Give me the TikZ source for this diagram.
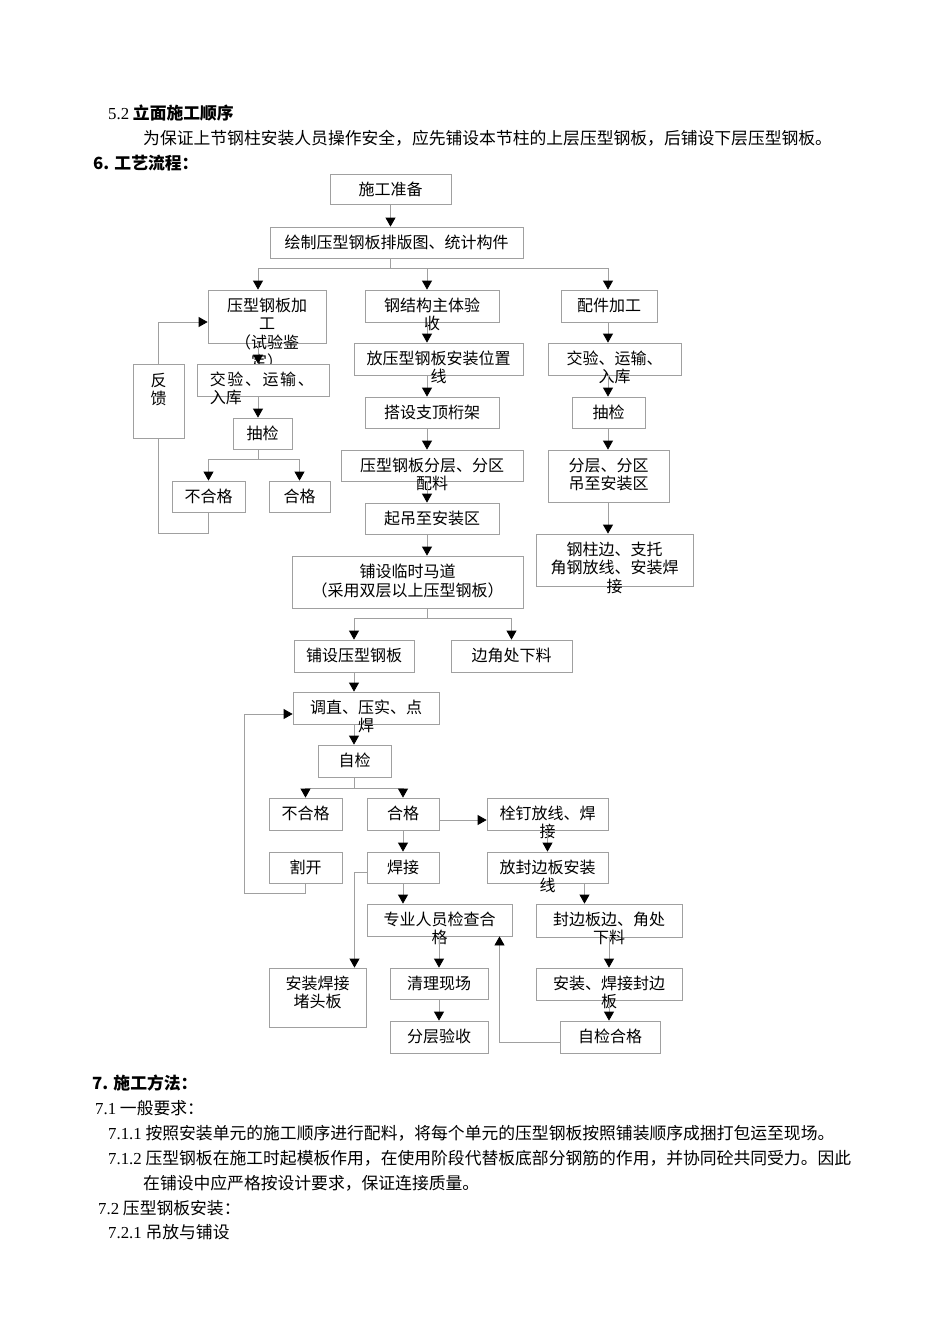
\documentclass[tikz,border=0pt]{standalone}
\usepackage{fontspec}
\setmainfont{Noto Sans CJK SC}
\newfontfamily\lat{Liberation Serif}
\usepackage{xcolor}
\usetikzlibrary{arrows.meta}

\definecolor{lgray}{HTML}{A0A0A0}
\newcommand{\boxlines}[1]{\begin{tabular}[t]{@{}c@{}}#1\end{tabular}}

\begin{document}
\begin{tikzpicture}[
  x=1pt, y=-1pt,
  font=\fontsize{16}{18}\selectfont,
  >={Triangle[width=10pt,length=9pt,color=black]},
  box/.style={draw=lgray, fill=white, line width=0.8pt, inner sep=0pt},
  txt/.style={anchor=base, inner sep=0pt},
  arr/.style={->, draw=lgray, line width=0.8pt},
  ln/.style={draw=lgray, line width=0.8pt},
  body/.style={anchor=base west, inner sep=0pt, font=\fontsize{16.8}{20}\selectfont},
]
\fill[white] (0,0) rectangle (950,1344);
\useasboundingbox (0,0) rectangle (950,1344);

% page text above the chart
\node[body] (t52) at (108,119.5) {{\lat 5.2} \textbf{立面施工顺序}};
\node[body] (tpara) at (143,144.5) {为保证上节钢柱安装人员操作安全，应先铺设本节柱的上层压型钢板，后铺设下层压型钢板。};
\node[body] (t6) at (93,169.5) {\textbf{6. 工艺流程：}};

% top
\node[box, minimum width=121pt, minimum height=30pt] (zb) at (390.5,189) {};
\node[txt] at ([yshift=-21.5pt]zb.north) {\boxlines{施工准备}};
\node[box, minimum width=253pt, minimum height=31pt] (ht) at (396.5,242.5) {};
\node[txt] at ([yshift=-21.5pt]ht.north) {\boxlines{绘制压型钢板排版图、统计构件}};

% left column
\node[box, minimum width=118pt, minimum height=53pt] (jg) at (267,316.5) {};
\node[txt] at ([yshift=-21.5pt]jg.north) {\boxlines{压型钢板加\\工\\（试验鉴\\定）}};
\node[box, minimum width=132pt, minimum height=32pt] (jy1) at (263,380) {};
\node[anchor=base west, inner sep=0pt] at ([xshift=13pt,yshift=-21.5pt]jy1.north west)
  {\begin{tabular}[t]{@{}l@{}}\makebox[104pt][s]{交\hfill 验\hfill 、\hfill 运\hfill 输\hfill 、}\\入库\end{tabular}};
\node[box, minimum width=51pt, minimum height=74pt] (fk) at (158.5,401) {};
\node[txt] at ([yshift=-22.5pt]fk.north) {\boxlines{反\\馈}};
\node[box, minimum width=59pt, minimum height=31pt] (cj1) at (262.5,433.5) {};
\node[txt] at ([yshift=-21.5pt]cj1.north) {\boxlines{抽检}};
\node[box, minimum width=73pt, minimum height=31pt] (bhg1) at (208.5,496.5) {};
\node[txt] at ([yshift=-21.5pt]bhg1.north) {\boxlines{不合格}};
\node[box, minimum width=61pt, minimum height=31pt] (hg1) at (299.5,496.5) {};
\node[txt] at ([yshift=-21.5pt]hg1.north) {\boxlines{合格}};

% middle column
\node[box, minimum width=134pt, minimum height=32pt] (ys) at (432,306) {};
\node[txt] at ([yshift=-21.5pt]ys.north) {\boxlines{钢结构主体验\\收}};
\node[box, minimum width=169pt, minimum height=32pt] (fx) at (438.5,359) {};
\node[txt] at ([yshift=-21.5pt]fx.north) {\boxlines{放压型钢板安装位置\\线}};
\node[box, minimum width=134pt, minimum height=31pt] (dj) at (432,412.5) {};
\node[txt] at ([yshift=-21.5pt]dj.north) {\boxlines{搭设支顶桁架}};
\node[box, minimum width=182pt, minimum height=31pt] (fc) at (432,465.5) {};
\node[txt] at ([yshift=-21.5pt]fc.north) {\boxlines{压型钢板分层、分区\\配料}};
\node[box, minimum width=134pt, minimum height=31pt] (qd) at (432,518.5) {};
\node[txt] at ([yshift=-21.5pt]qd.north) {\boxlines{起吊至安装区}};

% right column
\node[box, minimum width=96pt, minimum height=32pt] (pj) at (609,306) {};
\node[txt] at ([yshift=-21.5pt]pj.north) {\boxlines{配件加工}};
\node[box, minimum width=133pt, minimum height=32pt] (jy2) at (614.5,359) {};
\node[txt] at ([yshift=-21.5pt]jy2.north) {\boxlines{交验、运输、\\入库}};
\node[box, minimum width=73pt, minimum height=31pt] (cj2) at (608.5,412.5) {};
\node[txt] at ([yshift=-21.5pt]cj2.north) {\boxlines{抽检}};
\node[box, minimum width=121pt, minimum height=52pt] (fq) at (608.5,476) {};
\node[txt] at ([yshift=-21.5pt]fq.north) {\boxlines{分层、分区\\吊至安装区}};
\node[box, minimum width=157pt, minimum height=52pt] (gz) at (614.5,560) {};
\node[txt] at ([yshift=-21.5pt]gz.north) {\boxlines{钢柱边、支托\\角钢放线、安装焊\\接}};

% laying
\node[box, minimum width=231pt, minimum height=52pt] (md) at (407.5,582) {};
\node[txt] at ([yshift=-21.5pt]md.north) {\boxlines{铺设临时马道\\（采用双层以上压型钢板）}};
\node[box, minimum width=120pt, minimum height=32pt] (pb) at (354,656) {};
\node[txt] at ([yshift=-21.5pt]pb.north) {\boxlines{铺设压型钢板}};
\node[box, minimum width=121pt, minimum height=32pt] (bj) at (511.5,656) {};
\node[txt] at ([yshift=-21.5pt]bj.north) {\boxlines{边角处下料}};
\node[box, minimum width=146pt, minimum height=32pt] (tz) at (366,708) {};
\node[txt] at ([yshift=-21.5pt]tz.north) {\boxlines{调直、压实、点\\焊}};
\node[box, minimum width=73pt, minimum height=32pt] (zj) at (354.5,761) {};
\node[txt] at ([yshift=-21.5pt]zj.north) {\boxlines{自检}};
\node[box, minimum width=73pt, minimum height=32pt] (bhg2) at (305.5,814) {};
\node[txt] at ([yshift=-21.5pt]bhg2.north) {\boxlines{不合格}};
\node[box, minimum width=72pt, minimum height=32pt] (hg2) at (403,814) {};
\node[txt] at ([yshift=-21.5pt]hg2.north) {\boxlines{合格}};
\node[box, minimum width=121pt, minimum height=32pt] (sd) at (547.5,814) {};
\node[txt] at ([yshift=-21.5pt]sd.north) {\boxlines{栓钉放线、焊\\接}};
\node[box, minimum width=73pt, minimum height=31pt] (gk) at (305.5,867.5) {};
\node[txt] at ([yshift=-21.5pt]gk.north) {\boxlines{割开}};
\node[box, minimum width=72pt, minimum height=31pt] (hj) at (403,867.5) {};
\node[txt] at ([yshift=-21.5pt]hj.north) {\boxlines{焊接}};
\node[box, minimum width=121pt, minimum height=31pt] (fb) at (547.5,867.5) {};
\node[txt] at ([yshift=-21.5pt]fb.north) {\boxlines{放封边板安装\\线}};
\node[box, minimum width=145pt, minimum height=32pt] (zy) at (439.5,920) {};
\node[txt] at ([yshift=-21.5pt]zy.north) {\boxlines{专业人员检查合\\格}};
\node[box, minimum width=146pt, minimum height=33pt] (fbx) at (609,920.5) {};
\node[txt] at ([yshift=-21.5pt]fbx.north) {\boxlines{封边板边、角处\\下料}};
\node[box, minimum width=97pt, minimum height=59pt] (dt) at (317.5,997.5) {};
\node[txt] at ([yshift=-21.5pt]dt.north) {\boxlines{安装焊接\\堵头板}};
\node[box, minimum width=98pt, minimum height=31pt] (ql) at (439,983.5) {};
\node[txt] at ([yshift=-21.5pt]ql.north) {\boxlines{清理现场}};
\node[box, minimum width=146pt, minimum height=32pt] (az) at (609,984) {};
\node[txt] at ([yshift=-21.5pt]az.north) {\boxlines{安装、焊接封边\\板}};
\node[box, minimum width=98pt, minimum height=32pt] (yc) at (439,1037) {};
\node[txt] at ([yshift=-21.5pt]yc.north) {\boxlines{分层验收}};
\node[box, minimum width=100pt, minimum height=32pt] (zjhg) at (610,1037) {};
\node[txt] at ([yshift=-21.5pt]zjhg.north) {\boxlines{自检合格}};

% connectors
\coordinate (c1) at (258,0);
\coordinate (c2) at (427,0);
\coordinate (c3) at (608,0);

\draw[arr] (zb.south) -- (zb.south |- ht.north);
\draw[ln] (zb.south |- ht.south) -- ++(0,10) coordinate (hb);
\draw[ln] (hb -| c1) -- (hb -| c3);
\draw[arr] (hb -| c1) -- (jg.north -| c1);
\draw[arr] (hb -| c2) -- (ys.north -| c2);
\draw[arr] (hb -| c3) -- (pj.north -| c3);

\draw[arr] (jg.south -| c1) -- (jy1.north -| c1);
\draw[arr] (jy1.south -| c1) -- (cj1.north -| c1);
\draw[ln] (cj1.south -| c1) -- ++(0,10) coordinate (cb);
\draw[ln] (cb -| bhg1) -- (cb -| hg1);
\draw[arr] (cb -| bhg1) -- (bhg1.north);
\draw[arr] (cb -| hg1) -- (hg1.north);
\draw[ln] (bhg1.south) -- ++(0,21) -| (fk.south);
\draw[arr] (fk.north) |- ([yshift=-5.5pt]jg.west);

\draw[arr] (ys.south -| c2) -- (fx.north -| c2);
\draw[arr] (fx.south -| c2) -- (dj.north -| c2);
\draw[arr] (dj.south -| c2) -- (fc.north -| c2);
\draw[arr] (fc.south -| c2) -- (qd.north -| c2);
\draw[arr] (qd.south -| c2) -- (md.north -| c2);

\draw[arr] (pj.south -| c3) -- (jy2.north -| c3);
\draw[arr] (jy2.south -| c3) -- (cj2.north -| c3);
\draw[arr] (cj2.south -| c3) -- (fq.north -| c3);
\draw[arr] (fq.south -| c3) -- (gz.north -| c3);

\draw[ln] (md.south -| c2) -- ++(0,10) coordinate (mb);
\draw[ln] (mb -| pb) -- (mb -| bj);
\draw[arr] (mb -| pb) -- (pb.north);
\draw[arr] (mb -| bj) -- (bj.north);
\draw[arr] (pb.south) -- (tz.north -| pb);
\draw[arr] (tz.south -| pb) -- (zj.north -| pb);
\draw[ln] (zj.south) -- ++(0,11) coordinate (sb);
\draw[ln] (sb -| bhg2) -- (sb -| hg2);
\draw[arr] (sb -| bhg2) -- (bhg2.north);
\draw[arr] (sb -| hg2) -- (hg2.north);
\draw[arr] ([yshift=-6pt]hg2.east) -- ([yshift=-6pt]hg2.east -| sd.west);
\draw[arr] (hg2.south) -- (hj.north);
\draw[arr] (gk.south) -- ++(0,10) -- ++(-61,0) |- ([yshift=-6pt]tz.west);
\draw[arr] ([yshift=-5pt]hj.west) -| ([xshift=37pt]dt.north);
\draw[arr] (hj.south) -- (zy.north -| hj);
\draw[arr] (zy.south -| ql) -- (ql.north);
\draw[arr] (ql.south) -- (yc.north);
\draw[arr] (sd.south) -- (fb.north);
\draw[arr] ([xshift=37pt]fb.south) -- ([xshift=37pt]fb.south |- fbx.north);
\draw[arr] (fbx.south) -- (az.north);
\draw[arr] (az.south) -- (zjhg.north -| az);
\draw[arr] ([yshift=-5pt]zjhg.west) -| ([xshift=60pt]zy.south);

% page text below the chart
\node[body] (t7) at (92,1089.5) {\textbf{7. 施工方法：}};
\node[body] (t71) at (95,1114.5) {{\lat 7.1} 一般要求：};
\node[body] (t711) at (108,1139.5) {{\lat 7.1.1} 按照安装单元的施工顺序进行配料，将每个单元的压型钢板按照铺装顺序成捆打包运至现场。};
\node[body] (t712) at (108,1164.5) {{\lat 7.1.2} 压型钢板在施工时起模板作用，在使用阶段代替板底部分钢筋的作用，并协同砼共同受力。因此};
\node[body] (t712b) at (143,1189.5) {在铺设中应严格按设计要求，保证连接质量。};
\node[body] (t72) at (98,1214.5) {{\lat 7.2} 压型钢板安装：};
\node[body] (t721) at (108,1238.5) {{\lat 7.2.1} 吊放与铺设};
\end{tikzpicture}
\end{document}
